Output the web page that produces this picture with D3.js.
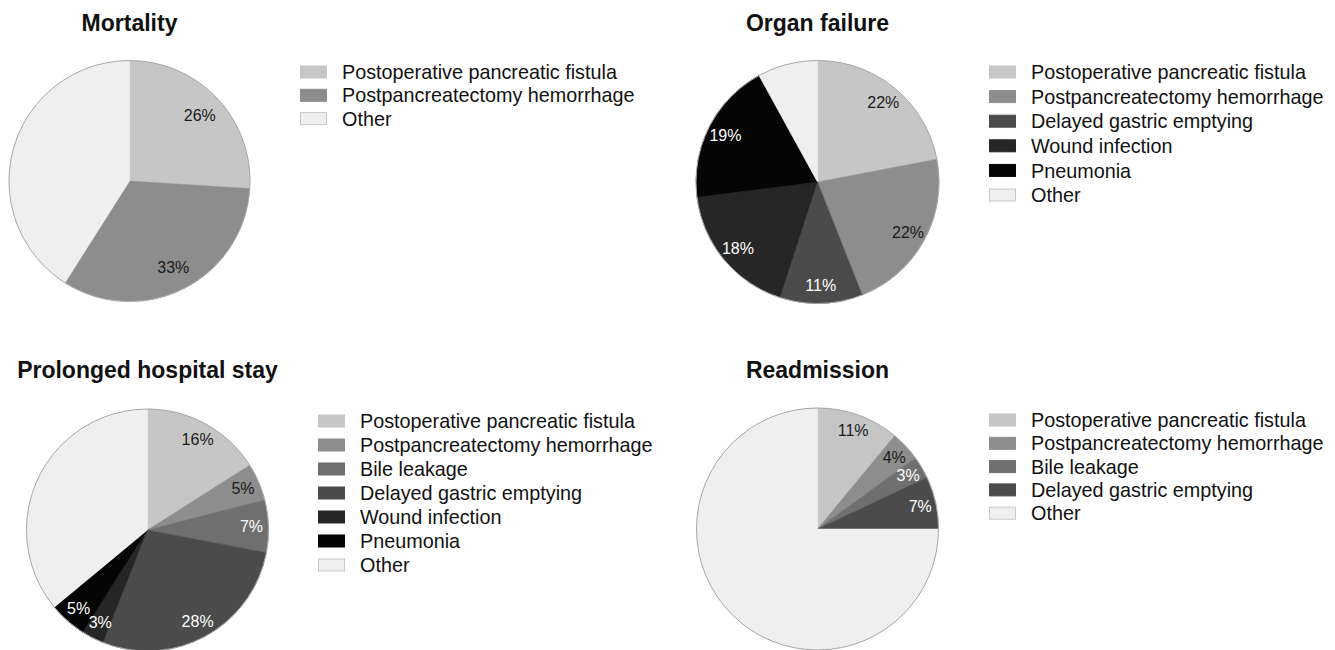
<!DOCTYPE html>
<html>
<head>
<meta charset="utf-8">
<script src="https://cdn.jsdelivr.net/npm/d3@7"></script>
<style>
  html, body { margin: 0; padding: 0; background: #fff; }
  svg { display: block; font-family: "Liberation Sans", Arial, sans-serif; }
</style>
</head>
<body>
<svg id="chart" width="1335" height="650"></svg>
<script>
// ---------- data ----------
const panelTitles = ["Mortality", "Organ failure", "Prolonged hospital stay", "Readmission"];

const mortalityCategories = ["Postoperative pancreatic fistula", "Postpancreatectomy hemorrhage", "Other"];
const mortalityValues = [26, 33, 41];

const organCategories = ["Postoperative pancreatic fistula", "Postpancreatectomy hemorrhage", "Delayed gastric emptying", "Wound infection", "Pneumonia", "Other"];
const organValues = [22, 22, 11, 18, 19, 8];

const prolongedCategories = ["Postoperative pancreatic fistula", "Postpancreatectomy hemorrhage", "Bile leakage", "Delayed gastric emptying", "Wound infection", "Pneumonia", "Other"];
const prolongedValues = [16, 5, 7, 28, 3, 5, 36];

const readmissionCategories = ["Postoperative pancreatic fistula", "Postpancreatectomy hemorrhage", "Bile leakage", "Delayed gastric emptying", "Other"];
const readmissionValues = [11, 4, 3, 7, 75];

// category colours (grayscale)
const categoryColors = {
  "Postoperative pancreatic fistula": "#c6c6c6",
  "Postpancreatectomy hemorrhage": "#8d8d8d",
  "Bile leakage": "#6f6f6f",
  "Delayed gastric emptying": "#4b4b4b",
  "Wound infection": "#262626",
  "Pneumonia": "#050505",
  "Other": "#efefef"
};

// ---------- layout ----------
const panels = [
  { cats: mortalityCategories, vals: mortalityValues, cx: 129.5, cy: 181, r: 120.5, titleY: 31, lf: 0.80, lx: 300, ly: 72, lstep: 23.3 },
  { cats: organCategories, vals: organValues, cx: 817.5, cy: 182, r: 121.5, titleY: 31, lf: 0.85, lx: 989, ly: 72, lstep: 24.6 },
  { cats: prolongedCategories, vals: prolongedValues, cx: 147.5, cy: 530, r: 121, titleY: 377.5, lf: 0.86, lx: 318, ly: 421, lstep: 24 },
  { cats: readmissionCategories, vals: readmissionValues, cx: 817.5, cy: 529, r: 121, titleY: 377.5, lf: 0.87, lx: 989, ly: 420, lstep: 23.3 }
];

const svg = d3.select("#chart");

function isDark(hex) {
  const c = d3.color(hex);
  return (0.299 * c.r + 0.587 * c.g + 0.114 * c.b) < 120;
}

panels.forEach((p, i) => {
  const data = p.cats.map((c, k) => ({ cat: c, val: p.vals[k] }));
  const pie = d3.pie().value(d => d.val).sort(null);
  const arcs = pie(data);
  const arc = d3.arc().innerRadius(0).outerRadius(p.r);
  const labelArc = d3.arc().innerRadius(p.r * p.lf).outerRadius(p.r * p.lf);

  const g = svg.append("g").attr("transform", `translate(${p.cx},${p.cy})`);

  g.selectAll("path.slice")
    .data(arcs)
    .join("path")
    .attr("class", "slice")
    .attr("d", arc)
    .attr("fill", d => categoryColors[d.data.cat])
    .attr("stroke", d => categoryColors[d.data.cat])
    .attr("stroke-width", 0.5);

  g.append("circle")
    .attr("r", p.r)
    .attr("fill", "none")
    .attr("stroke", "#a8a8a8")
    .attr("stroke-width", 1);

  g.selectAll("text.lbl")
    .data(arcs.filter(d => d.data.cat !== "Other"))
    .join("text")
    .attr("class", "lbl")
    .attr("transform", d => `translate(${labelArc.centroid(d)})`)
    .attr("text-anchor", "middle")
    .attr("dy", "0.36em")
    .attr("font-size", 16)
    .attr("fill", d => isDark(categoryColors[d.data.cat]) ? "#ffffff" : "#1a1a1a")
    .text(d => d.data.val + "%");

  // title
  svg.append("text")
    .attr("x", p.cx)
    .attr("y", p.titleY)
    .attr("text-anchor", "middle")
    .attr("font-size", 23)
    .attr("font-weight", "bold")
    .attr("fill", "#111")
    .text(panelTitles[i]);

  // legend
  const lg = svg.append("g").attr("transform", `translate(${p.lx},${p.ly})`);
  const items = lg.selectAll("g.item")
    .data(p.cats)
    .join("g")
    .attr("class", "item")
    .attr("transform", (d, k) => `translate(0,${k * p.lstep})`);
  items.append("rect")
    .attr("x", 0.5).attr("y", -6)
    .attr("width", 26).attr("height", 12)
    .attr("fill", d => categoryColors[d])
    .attr("stroke", d => d === "Other" ? "#c8c8c8" : categoryColors[d])
    .attr("stroke-width", 1);
  items.append("text")
    .attr("x", 42)
    .attr("dy", "0.36em")
    .attr("font-size", 19.8)
    .attr("fill", "#111")
    .text(d => d);
});
</script>
</body>
</html>
